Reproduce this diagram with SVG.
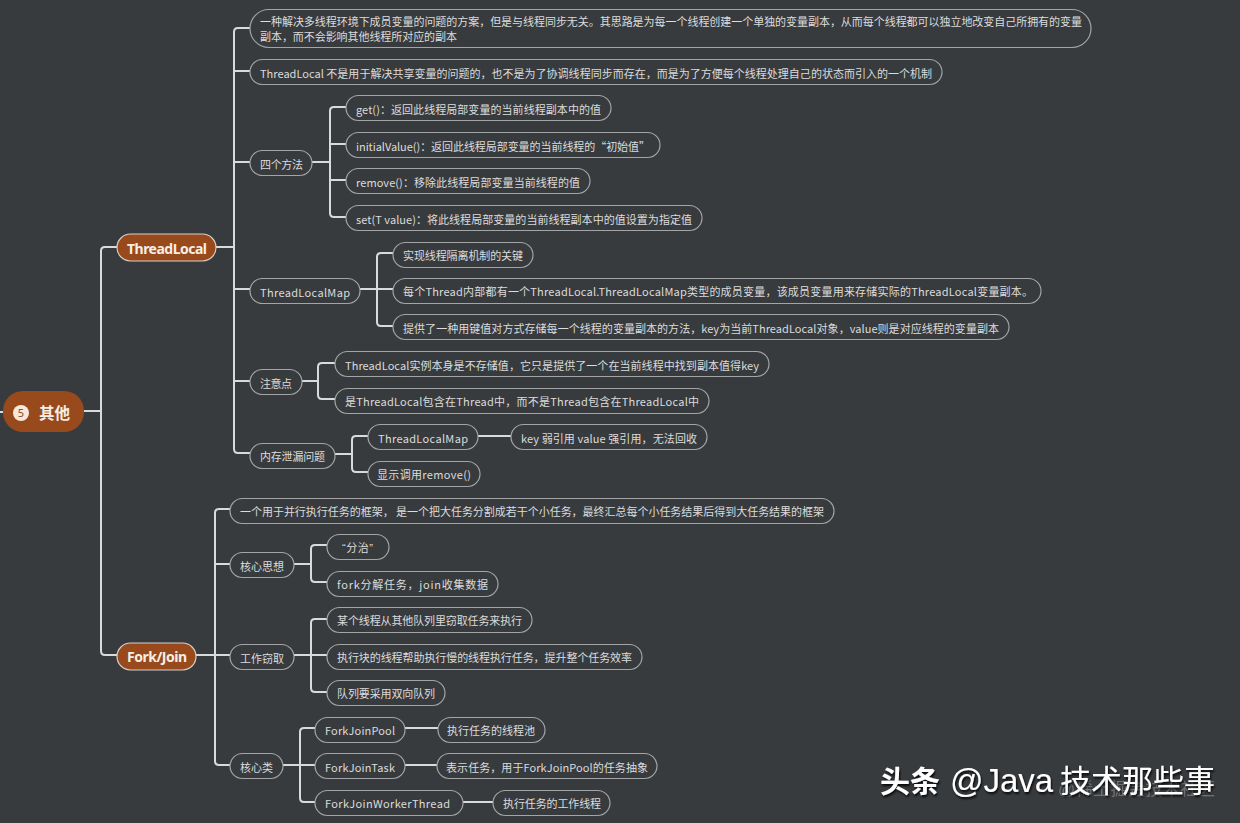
<svg xmlns="http://www.w3.org/2000/svg" width="1240" height="823" viewBox="0 0 1240 823">
<defs>
<filter id="shadow" x="-5%" y="-30%" width="110%" height="160%"><feDropShadow dx="1" dy="2" stdDeviation="0.8" flood-color="#000" flood-opacity="0.9"/></filter>
</defs>
<style>
.n{fill:#383b3e;stroke:#a3a5a6;stroke-width:1.2}
.m{fill:#984a1c;stroke:#d5d0cb;stroke-width:1.2}
.t{font:11px "Noto Sans CJK SC","Noto Sans",sans-serif;fill:#dcdcdc}
.b{font:bold 14px "Noto Sans","Noto Sans CJK SC",sans-serif;fill:#f6eee6}
.c{fill:none;stroke:#d8dadb;stroke-width:2;stroke-linecap:butt}
.w{font-family:"Liberation Sans","Noto Sans CJK SC",sans-serif;fill:#fff}
</style>
<rect width="1240" height="823" fill="#383b3e"/>
<g id="connectors" class="c">
<path d="M0 412H3M84 411H101M117 247H105Q101 247 101 251V651Q101 655 105 655H117"/>
<path d="M216 247H234M250 28H238Q234 28 234 32V449Q234 453 238 453H250M234 71H250M234 162H250M234 289H250M234 381H250"/>
<path d="M312 162H330M346 107H334Q330 107 330 111V213Q330 217 334 217H346M330 144H346M330 180H346"/>
<path d="M360 289H393M393 253H381Q377 253 377 257V322Q377 326 381 326H393"/>
<path d="M302 381H318M335 363H322Q318 363 318 367V395Q318 399 322 399H335"/>
<path d="M335 454H352M368 436H356Q352 436 352 440V468Q352 472 356 472H368M478 436H511"/>
<path d="M196 655H230M230 509H219Q215 509 215 513V761Q215 765 219 765H230M215 564H230"/>
<path d="M294 564H311M327 545H315Q311 545 311 549V578Q311 582 315 582H327"/>
<path d="M294 655H327M327 619H315Q311 619 311 623V688Q311 692 315 692H327"/>
<path d="M283 765H315M315 728H304Q300 728 300 732V798Q300 802 304 802H315"/>
<path d="M405 728H438M405 765H437M463 802H493"/>
</g>
<g id="root"><rect class="m" style="stroke:none" x="3" y="391" width="81" height="41" rx="20"/><circle cx="21" cy="413" r="8" fill="#f6e8dc"/><text x="21" y="417" text-anchor="middle" style="font:11px 'Noto Sans',sans-serif;fill:#984a1c">5</text><text class="b" x="39" y="419" style="font-size:15.5px">其他</text></g>
<g id="threadlocal"><rect class="m" x="117" y="234" width="99" height="27" rx="13.5"/><text class="b" x="127" y="254" textLength="80">ThreadLocal</text></g>
<g id="forkjoin"><rect class="m" x="117" y="643" width="79" height="27" rx="13.5"/><text class="b" x="127" y="662" textLength="60">Fork/Join</text></g>
<g id="n1"><rect class="n" x="250" y="9.500" width="841" height="38" rx="19"/><text class="t" x="260" y="26" textLength="822">一种解决多线程环境下成员变量的问题的方案，但是与线程同步无关。其思路是为每一个线程创建一个单独的变量副本，从而每个线程都可以独立地改变自己所拥有的变量</text><text class="t" x="260" y="41" textLength="197">副本，而不会影响其他线程所对应的副本</text></g>
<g id="n2"><rect class="n" x="250" y="59.500" width="692" height="25" rx="12.500"/><text class="t" x="260" y="78" textLength="672">ThreadLocal 不是用于解决共享变量的问题的，也不是为了协调线程同步而存在，而是为了方便每个线程处理自己的状态而引入的一个机制</text></g>
<g id="n3"><rect class="n" x="250" y="150.500" width="62" height="25" rx="12.500"/><text class="t" x="260" y="169" textLength="43">四个方法</text></g>
<g id="n4"><rect class="n" x="346" y="95.500" width="265" height="25" rx="12.500"/><text class="t" x="356" y="114" textLength="245">get()：返回此线程局部变量的当前线程副本中的值</text></g>
<g id="n5"><rect class="n" x="346" y="132.500" width="314" height="25" rx="12.500"/><text class="t" x="356" y="151" textLength="294">initialValue()：返回此线程局部变量的当前线程的“初始值”</text></g>
<g id="n6"><rect class="n" x="346" y="168.500" width="244" height="25" rx="12.500"/><text class="t" x="356" y="187" textLength="224">remove()：移除此线程局部变量当前线程的值</text></g>
<g id="n7"><rect class="n" x="346" y="205.500" width="356" height="25" rx="12.500"/><text class="t" x="356" y="224" textLength="336">set(T value)：将此线程局部变量的当前线程副本中的值设置为指定值</text></g>
<g id="n8"><rect class="n" x="250" y="278.500" width="110" height="25" rx="12.500"/><text class="t" x="260" y="297" textLength="90">ThreadLocalMap</text></g>
<g id="n9"><rect class="n" x="393" y="242.500" width="140" height="25" rx="12.500"/><text class="t" x="403" y="260" textLength="120">实现线程隔离机制的关键</text></g>
<g id="n10"><rect class="n" x="393" y="278.500" width="648" height="25" rx="12.500"/><text class="t" x="403" y="296" textLength="630">每个Thread内部都有一个ThreadLocal.ThreadLocalMap类型的成员变量，该成员变量用来存储实际的ThreadLocal变量副本。</text></g>
<g id="n11"><rect class="n" x="393" y="314.500" width="616" height="25" rx="12.500"/><text class="t" x="403" y="333" textLength="596">提供了一种用键值对方式存储每一个线程的变量副本的方法，key为当前ThreadLocal对象，value则是对应线程的变量副本</text></g>
<g id="n12"><rect class="n" x="250" y="369.500" width="52" height="25" rx="12.500"/><text class="t" x="260" y="388" textLength="32">注意点</text></g>
<g id="n13"><rect class="n" x="335" y="351.500" width="434" height="25" rx="12.500"/><text class="t" x="345" y="370" textLength="414">ThreadLocal实例本身是不存储值，它只是提供了一个在当前线程中找到副本值得key</text></g>
<g id="n14"><rect class="n" x="335" y="388.500" width="374" height="25" rx="12.500"/><text class="t" x="345" y="406" textLength="354">是ThreadLocal包含在Thread中，而不是Thread包含在ThreadLocal中</text></g>
<g id="n15"><rect class="n" x="250" y="443.500" width="85" height="25" rx="12.500"/><text class="t" x="260" y="461" textLength="65">内存泄漏问题</text></g>
<g id="n16"><rect class="n" x="368" y="424.500" width="110" height="25" rx="12.500"/><text class="t" x="378" y="443" textLength="90">ThreadLocalMap</text></g>
<g id="n17"><rect class="n" x="511" y="424.500" width="196" height="25" rx="12.500"/><text class="t" x="521" y="443" textLength="176">key 弱引用 value 强引用，无法回收</text></g>
<g id="n18"><rect class="n" x="368" y="461.500" width="112" height="25" rx="12.500"/><text class="t" x="377" y="479" textLength="94">显示调用remove()</text></g>
<g id="n19"><rect class="n" x="230" y="498.500" width="604" height="25" rx="12.500"/><text class="t" x="240" y="516" textLength="584">一个用于并行执行任务的框架， 是一个把大任务分割成若干个小任务，最终汇总每个小任务结果后得到大任务结果的框架</text></g>
<g id="n20"><rect class="n" x="230" y="552.500" width="64" height="25" rx="12.500"/><text class="t" x="240" y="571" textLength="44">核心思想</text></g>
<g id="n21"><rect class="n" x="327" y="534.500" width="62" height="25" rx="12.500"/><text class="t" x="342" y="552" textLength="31" style="font-family:'Liberation Sans','Noto Sans CJK SC',sans-serif">“分治”</text></g>
<g id="n22"><rect class="n" x="327" y="571.500" width="171" height="25" rx="12.500"/><text class="t" x="337" y="589" textLength="151">fork分解任务，join收集数据</text></g>
<g id="n23"><rect class="n" x="230" y="644.500" width="64" height="25" rx="12.500"/><text class="t" x="240" y="663" textLength="44">工作窃取</text></g>
<g id="n24"><rect class="n" x="327" y="607.500" width="205" height="25" rx="12.500"/><text class="t" x="337" y="625" textLength="185">某个线程从其他队列里窃取任务来执行</text></g>
<g id="n25"><rect class="n" x="327" y="644.500" width="315" height="25" rx="12.500"/><text class="t" x="337" y="662" textLength="295">执行块的线程帮助执行慢的线程执行任务，提升整个任务效率</text></g>
<g id="n26"><rect class="n" x="327" y="680.500" width="118" height="25" rx="12.500"/><text class="t" x="337" y="698" textLength="98">队列要采用双向队列</text></g>
<g id="n27"><rect class="n" x="230" y="753.500" width="53" height="25" rx="12.500"/><text class="t" x="240" y="772" textLength="33">核心类</text></g>
<g id="n28"><rect class="n" x="315" y="717.500" width="90" height="25" rx="12.500"/><text class="t" x="325" y="735" textLength="70">ForkJoinPool</text></g>
<g id="n29"><rect class="n" x="315" y="753.500" width="90" height="25" rx="12.500"/><text class="t" x="325" y="772" textLength="70">ForkJoinTask</text></g>
<g id="n30"><rect class="n" x="315" y="790.500" width="148" height="25" rx="12.500"/><text class="t" x="325" y="808" textLength="125">ForkJoinWorkerThread</text></g>
<g id="n31"><rect class="n" x="438" y="717.500" width="107" height="25" rx="12.500"/><text class="t" x="447" y="735" textLength="88">执行任务的线程池</text></g>
<g id="n32"><rect class="n" x="437" y="753.500" width="220" height="25" rx="12.500"/><text class="t" x="446" y="772" textLength="202">表示任务，用于ForkJoinPool的任务抽象</text></g>
<g id="n33"><rect class="n" x="493" y="790.500" width="117" height="25" rx="12.500"/><text class="t" x="503" y="808" textLength="98">执行任务的工作线程</text></g>
<text class="w" x="1058" y="795" font-size="17" textLength="157" opacity="0.28">@稀土掘金技术社区</text>
<g filter="url(#shadow)"><text class="w" x="880" y="792" font-size="30" font-weight="bold">头条</text><text class="w" x="950" y="792" font-size="33">@Java</text><text class="w" x="1060" y="792" font-size="31" textLength="155">技术那些事</text></g>
</svg>
